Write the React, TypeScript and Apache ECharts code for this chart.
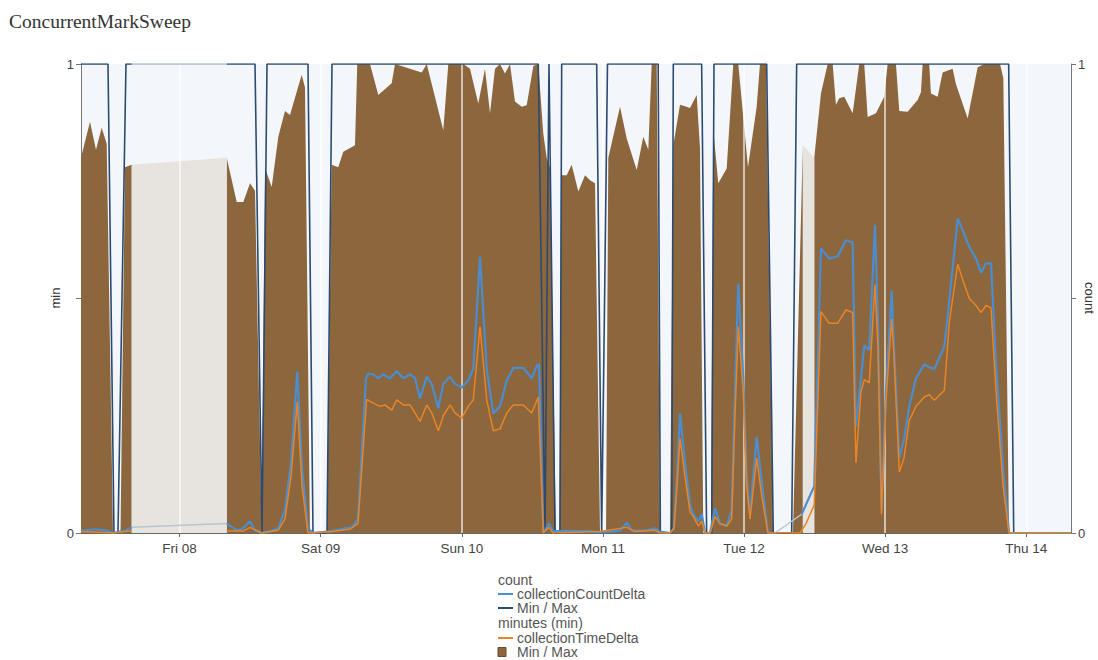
import React, { useEffect, useRef } from 'react';
import * as echarts from 'echarts';

// x values: hours since Thu 07 00:00
const dayTicks = [24, 48, 72, 96, 120, 144, 168];
const dayLabels = ['Fri 08', 'Sat 09', 'Sun 10', 'Mon 11', 'Tue 12', 'Wed 13', 'Thu 14'];

type P = [number, number | null];

// minutes (min) - Min / Max (upper envelope, lower = 0)
const minutesMinMax: P[] = [
  [7.25, 0.8], [8.78, 0.877], [9.8, 0.817], [10.77, 0.864], [11.62, 0.83], [12.69, 0], [13.97, 0], [14.73, 0.78], [15.87, 0.785], [20, null],
  [32.03, 0.8], [33.73, 0.706], [34.85, 0.706], [35.99, 0.746], [36.84, 0.73], [37.98, 0], [38.54, 0.778], [39.68, 0.738], [40.8, 0.845], [41.94, 0.9], [42.79, 0.891], [44.78, 0.977], [45.34, 0.95], [46.19, 0],
  [49.08, 0], [49.88, 0.785], [51.0, 0.78], [51.85, 0.813], [53.84, 0.827], [54.23, 1.0], [56.39, 1.0], [57.81, 0.934], [60.08, 0.959], [60.65, 1.0], [65.19, 0.982], [66.04, 1.0], [68.86, 0.859], [69.71, 1.0], [72.26, 1.0], [73.4, 0.99], [74.81, 0.916], [75.95, 0.99], [76.8, 0.895], [77.65, 0.99], [78.5, 1.0], [79.35, 0.98], [80.2, 1.0], [81.05, 0.92], [82.19, 0.909], [83.04, 0.912], [84.17, 0.996], [85.01, 1.0], [85.86, 0.852], [86.44, 0.8], [87.0, 0.78], [88.02, 0],
  [88.62, 0], [88.87, 0.763], [89.84, 0.763], [90.69, 0.785], [91.82, 0.728], [92.96, 0.763], [93.81, 0.752], [94.66, 0.746], [95.51, 0],
  [96.53, 0], [96.92, 0.8], [98.91, 0.909], [100.05, 0.841], [101.75, 0.774], [102.87, 0.845], [103.72, 0.817], [104.3, 1.0], [105.15, 1.0], [105.71, 0],
  [107.41, 0], [107.97, 0.826], [109.11, 0.913], [109.96, 0.91], [110.81, 0.906], [111.95, 0.934], [112.51, 0.82], [113.07, 0],
  [114.38, 0], [114.77, 0.86], [115.62, 0.746], [117.05, 0.777], [118.17, 1.0], [119.02, 1.0], [120.67, 0.78], [122.15, 0.909], [122.71, 1.0], [123.73, 1.0], [124.92, 0],
  [128.32, 0], [130.0, 0.827], [131, null],
  [131.94, 0.8], [133.08, 0.937], [134.22, 1.0], [135.07, 1.0], [135.63, 0.913], [136.19, 0.927], [137.04, 0.93], [138.47, 0.895], [139.59, 1.0], [140.44, 1.0], [141.02, 0.887], [142.43, 0.895], [143.84, 0.93], [144.42, 1.0], [145.83, 1.0], [146.4, 0.9], [147.82, 0.898], [149.52, 0.923], [150.08, 0.94], [150.37, 1.0], [151.49, 1.0], [151.78, 0.937], [152.92, 0.93], [153.77, 0.982], [155.47, 0.99], [156.04, 0.957], [158.03, 0.884], [159.73, 0.993], [160.85, 1.0], [163.53, 1.0], [164.09, 0.97], [165.06, 0], [175.6, 0],
];

// interpolated (no data) stretches of the minutes band
const minutesBridge: P[] = [
  [15.87, 0.785], [32.03, 0.8], [80, null], [130.0, 0.827], [131.94, 0.8],
];

// count - Min / Max
const countMinMax: P[] = [
  [7.25, 1], [11.84, 1], [12.86, 0], [13.54, 0], [14.9, 1], [15.87, 1], [20, null],
  [32.03, 1], [36.84, 1], [38.03, 0], [38.88, 1], [45.85, 1], [46.7, 0], [49.08, 0], [49.93, 1], [85.01, 1], [86.15, 0], [86.83, 1], [87.85, 0], [88.7, 0], [88.99, 1], [94.94, 1], [95.79, 0], [96.78, 1], [105.4, 1], [105.77, 0], [107.7, 0], [107.97, 1], [112.79, 1], [113.64, 0], [114.5, 0], [114.89, 1], [123.85, 1], [124.97, 0], [128.1, 0], [128.95, 1], [165.0, 1], [165.86, 0], [175.6, 0],
];

const countMinMaxBridge: P[] = [[15.87, 1], [32.03, 1]];

// count - collectionCountDelta
const collectionCountDelta: P[] = [
  [7.25, 0.005], [9.8, 0.008], [11.62, 0.005], [12.69, 0], [14.73, 0.005], [15.87, 0.012], [20, null],
  [32.03, 0.02], [33.73, 0.006], [34.85, 0.01], [35.99, 0.025], [36.84, 0.006], [37.98, 0], [39.68, 0.005], [40.8, 0.01], [41.94, 0.05], [42.96, 0.15], [44.03, 0.344], [44.83, 0.14], [45.85, 0.01], [46.7, 0],
  [49.88, 0.004], [52.14, 0.01], [53.33, 0.012], [54.35, 0.03], [55.71, 0.33], [56.1, 0.34], [56.95, 0.338], [57.81, 0.33], [58.66, 0.338], [59.8, 0.33], [60.94, 0.345], [62.06, 0.33], [63.2, 0.338], [64.05, 0.33], [64.9, 0.287], [66.04, 0.333], [66.89, 0.318], [68.01, 0.266], [68.86, 0.318], [70.0, 0.333], [70.85, 0.318], [71.99, 0.31], [73.11, 0.325], [73.96, 0.35], [75.1, 0.589], [76.24, 0.35], [77.36, 0.255], [78.5, 0.27], [79.64, 0.325], [80.76, 0.352], [82.46, 0.352], [83.89, 0.33], [84.74, 0.356], [85.13, 0.36], [85.86, 0],
  [86.83, 0.02], [87.51, 0.004], [89.55, 0.004], [93.81, 0.004], [95.5, 0.002], [98.05, 0.004], [99.07, 0.006], [100.05, 0.022], [100.95, 0.005], [103.16, 0.005], [104.86, 0.01], [105.71, 0.003],
  [107.41, 0], [108.09, 0.01], [108.6, 0.12], [109.11, 0.255], [109.96, 0.15], [110.81, 0.06], [111.38, 0.04], [112.23, 0.025], [112.81, 0.04], [113.37, 0], [114.22, 0], [115.07, 0.053], [115.92, 0.02], [117.05, 0.015], [117.9, 0.05], [118.46, 0.3], [119.02, 0.532], [119.87, 0.33], [120.45, 0.12], [121.02, 0.04], [122.15, 0.205], [123.0, 0.11], [124.07, 0], [125.26, 0], [127, null],
  [129.8, 0.04], [131.94, 0.1], [133.08, 0.607], [134.49, 0.585], [135.92, 0.59], [137.33, 0.624], [138.47, 0.62], [139.03, 0.227], [139.88, 0.33], [140.44, 0.4], [141.29, 0.39], [142.26, 0.657], [142.77, 0.45], [143.37, 0.05], [144.13, 0.3], [145.1, 0.517], [145.49, 0.4], [146.4, 0.16], [147.2, 0.2], [148.1, 0.27], [149.24, 0.33], [150.66, 0.36], [151.51, 0.353], [152.36, 0.35], [154.06, 0.397], [154.91, 0.497], [156.34, 0.671], [157.19, 0.645], [158.31, 0.61], [159.45, 0.585], [160.3, 0.555], [161.15, 0.575], [162.0, 0.575], [162.86, 0.36], [164.05, 0.14], [165.07, 0], [175.6, 0],
];

const countDeltaBridge: P[] = [[15.87, 0.012], [32.03, 0.02], [80, null], [125.26, 0], [129.8, 0.04]];

// minutes (min) - collectionTimeDelta
const collectionTimeDelta: P[] = [
  [7.25, 0.003], [12.69, 0], [14.73, 0.003], [15.87, 0.005], [20, null],
  [32.03, 0.005], [34.85, 0.004], [35.99, 0.012], [37.98, 0], [40.8, 0.006], [41.94, 0.03], [42.96, 0.12], [44.03, 0.28], [44.83, 0.1], [45.85, 0],
  [49.88, 0.003], [52.99, 0.008], [54.35, 0.02], [55.82, 0.285], [56.95, 0.277], [58.09, 0.27], [58.94, 0.273], [60.08, 0.262], [60.94, 0.284], [62.06, 0.273], [63.2, 0.273], [63.76, 0.262], [64.9, 0.238], [66.04, 0.273], [66.89, 0.256], [68.01, 0.218], [68.86, 0.25], [70.0, 0.273], [70.85, 0.256], [71.99, 0.245], [73.11, 0.27], [73.96, 0.284], [75.1, 0.44], [76.24, 0.284], [77.36, 0.218], [78.5, 0.222], [79.64, 0.256], [80.76, 0.273], [82.46, 0.273], [83.89, 0.256], [85.01, 0.29], [85.86, 0],
  [86.83, 0.012], [87.51, 0], [95.5, 0.003], [100.05, 0.012], [101.46, 0.003], [104.86, 0.006], [105.71, 0],
  [107.41, 0], [108.09, 0.01], [108.6, 0.1], [109.11, 0.202], [109.96, 0.12], [110.81, 0.045], [111.38, 0.035], [112.23, 0.015], [112.81, 0.025], [113.37, 0], [114.22, 0], [115.07, 0.035], [115.92, 0.02], [117.05, 0.015], [117.9, 0.03], [118.46, 0.25], [119.02, 0.44], [119.87, 0.3], [120.45, 0.1], [121.02, 0.03], [122.15, 0.16], [123.0, 0.08], [124.07, 0],
  [129.52, 0], [130.54, 0.02], [131.94, 0.06], [133.08, 0.472], [134.49, 0.447], [135.92, 0.447], [137.33, 0.476], [138.47, 0.47], [139.03, 0.15], [139.88, 0.3], [140.44, 0.327], [141.29, 0.32], [142.26, 0.53], [142.77, 0.4], [143.37, 0.04], [144.13, 0.28], [145.1, 0.456], [145.49, 0.38], [146.4, 0.13], [147.2, 0.16], [148.1, 0.24], [149.24, 0.27], [150.66, 0.29], [151.51, 0.295], [152.36, 0.283], [154.06, 0.304], [154.91, 0.45], [156.34, 0.573], [157.19, 0.54], [158.31, 0.5], [159.45, 0.485], [160.3, 0.47], [161.15, 0.485], [162.0, 0.48], [162.86, 0.3], [164.05, 0.1], [165.07, 0], [175.6, 0],
];

const BROWN = '#8c663c';
const LIGHT_BLUE = '#4a8dd0';
const DARK_BLUE = '#2c4a70';
const ORANGE = '#ea8424';
const SANS = '"Liberation Sans", Arial, sans-serif';

const prep = (arr: P[]) => arr.map(([h, v]) => [h, v === null ? '-' : v]);

export default function App() {
  const ref = useRef<HTMLDivElement>(null);
  useEffect(() => {
    if (!ref.current) return;
    const chart = echarts.init(ref.current, undefined, { renderer: 'svg' });
    const yAxisCommon = {
      type: 'value',
      min: 0,
      max: 1,
      interval: 0.5,
      axisLine: { show: true, lineStyle: { color: '#777', width: 1 } },
      axisTick: { show: true, length: 5, lineStyle: { color: '#777' } },
      axisLabel: {
        fontFamily: SANS,
        fontSize: 13,
        color: '#444',
        margin: 7,
        formatter: (v: number) => (v === 0 || v === 1 ? String(v) : ''),
      },
      splitLine: { show: false },
    };
    const legendRows = [
      { y: 580, text: 'count', mark: null },
      { y: 594, text: 'collectionCountDelta', mark: LIGHT_BLUE },
      { y: 608, text: 'Min / Max', mark: DARK_BLUE },
      { y: 623, text: 'minutes (min)', mark: null },
      { y: 638, text: 'collectionTimeDelta', mark: ORANGE },
      { y: 652, text: 'Min / Max', mark: 'square' },
    ];
    const graphic: any[] = [
      {
        type: 'text',
        x: 55,
        y: 298,
        rotation: Math.PI / 2,
        style: { text: 'min', font: `13px ${SANS}`, fill: '#333', align: 'center', verticalAlign: 'middle' },
      },
      {
        type: 'text',
        x: 1089,
        y: 298,
        rotation: -Math.PI / 2,
        style: { text: 'count', font: `13px ${SANS}`, fill: '#333', align: 'center', verticalAlign: 'middle' },
      },
    ];
    legendRows.forEach((r) => {
      const indent = r.mark ? 517 : 498;
      graphic.push({
        type: 'text',
        x: indent,
        y: r.y,
        style: { text: r.text, font: `14px ${SANS}`, fill: '#555', verticalAlign: 'middle', align: 'left' },
      });
      if (r.mark === 'square') {
        graphic.push({ type: 'rect', shape: { x: 498, y: r.y - 4.5, width: 8, height: 9 }, style: { fill: BROWN, stroke: '#6b4b28', lineWidth: 1 } });
      } else if (r.mark) {
        graphic.push({ type: 'line', shape: { x1: 498, y1: r.y, x2: 513, y2: r.y }, style: { stroke: r.mark, lineWidth: 2 } });
      }
    });

    chart.setOption({
      animation: false,
      backgroundColor: '#ffffff',
      title: {
        text: 'ConcurrentMarkSweep',
        left: 9,
        top: 11,
        padding: 0,
        textStyle: { fontFamily: '"Liberation Serif", "Times New Roman", serif', fontSize: 19.5, fontWeight: 'normal', color: '#333' },
      },
      grid: {
        left: 81,
        right: 27,
        top: 64,
        bottom: 127,
        outerBoundsMode: 'none',
        containLabel: false,
        show: true,
        backgroundColor: '#f3f7fb',
        borderWidth: 0,
      },
      xAxis: {
        type: 'value',
        min: 7.25,
        max: 175.6,
        axisLine: { show: true, onZero: false, lineStyle: { color: '#666', width: 1 } },
        axisTick: { show: true, length: 4, customValues: dayTicks, lineStyle: { color: '#666' } },
        axisLabel: {
          customValues: dayTicks,
          fontFamily: SANS,
          fontSize: 13.5,
          color: '#444',
          margin: 8,
          formatter: (v: number) => {
            const i = dayTicks.indexOf(Math.round(v));
            return i >= 0 ? dayLabels[i] : '';
          },
        },
        splitLine: { show: false },
      },
      yAxis: [
        { ...yAxisCommon, position: 'left' },
        { ...yAxisCommon, position: 'right' },
      ],
      graphic,
      series: [
        {
          name: 'Min / Max (min)',
          type: 'line',
          yAxisIndex: 0,
          data: prep(minutesMinMax),
          symbol: 'none',
          lineStyle: { width: 0 },
          areaStyle: { color: BROWN, opacity: 1 },
          z: 2,
        },
        {
          name: 'bridge',
          type: 'line',
          yAxisIndex: 0,
          data: prep(minutesBridge),
          symbol: 'none',
          lineStyle: { width: 0 },
          areaStyle: { color: '#e7e3df', opacity: 1 },
          z: 2,
          markLine: {
            silent: true,
            symbol: ['none', 'none'],
            z: 3,
            label: { show: false },
            lineStyle: { color: 'rgba(255,255,255,0.8)', width: 1.5, type: 'solid' },
            data: dayTicks.map((h) => ({ xAxis: h })),
          },
        },
        {
          name: 'countBridge',
          type: 'line',
          yAxisIndex: 1,
          data: prep(countMinMaxBridge),
          symbol: 'none',
          lineStyle: { color: '#a9b8c9', width: 1.5 },
          z: 4,
        },
        {
          name: 'Min / Max',
          type: 'line',
          yAxisIndex: 1,
          data: prep(countMinMax),
          symbol: 'none',
          lineStyle: { color: DARK_BLUE, width: 1.6 },
          z: 4,
        },
        {
          name: 'deltaBridge',
          type: 'line',
          yAxisIndex: 1,
          data: prep(countDeltaBridge),
          symbol: 'none',
          lineStyle: { color: '#b9c5d1', width: 1.5 },
          z: 5,
        },
        {
          name: 'collectionCountDelta',
          type: 'line',
          yAxisIndex: 1,
          data: prep(collectionCountDelta),
          symbol: 'none',
          lineStyle: { color: LIGHT_BLUE, width: 2.2 },
          z: 5,
        },
        {
          name: 'collectionTimeDelta',
          type: 'line',
          yAxisIndex: 0,
          data: prep(collectionTimeDelta),
          symbol: 'none',
          lineStyle: { color: ORANGE, width: 1.5 },
          z: 6,
        },
      ],
    });
    return () => chart.dispose();
  }, []);
  return <div ref={ref} style={{ position: 'absolute', left: 0, top: 0, width: 1098, height: 660 }} />;
}
